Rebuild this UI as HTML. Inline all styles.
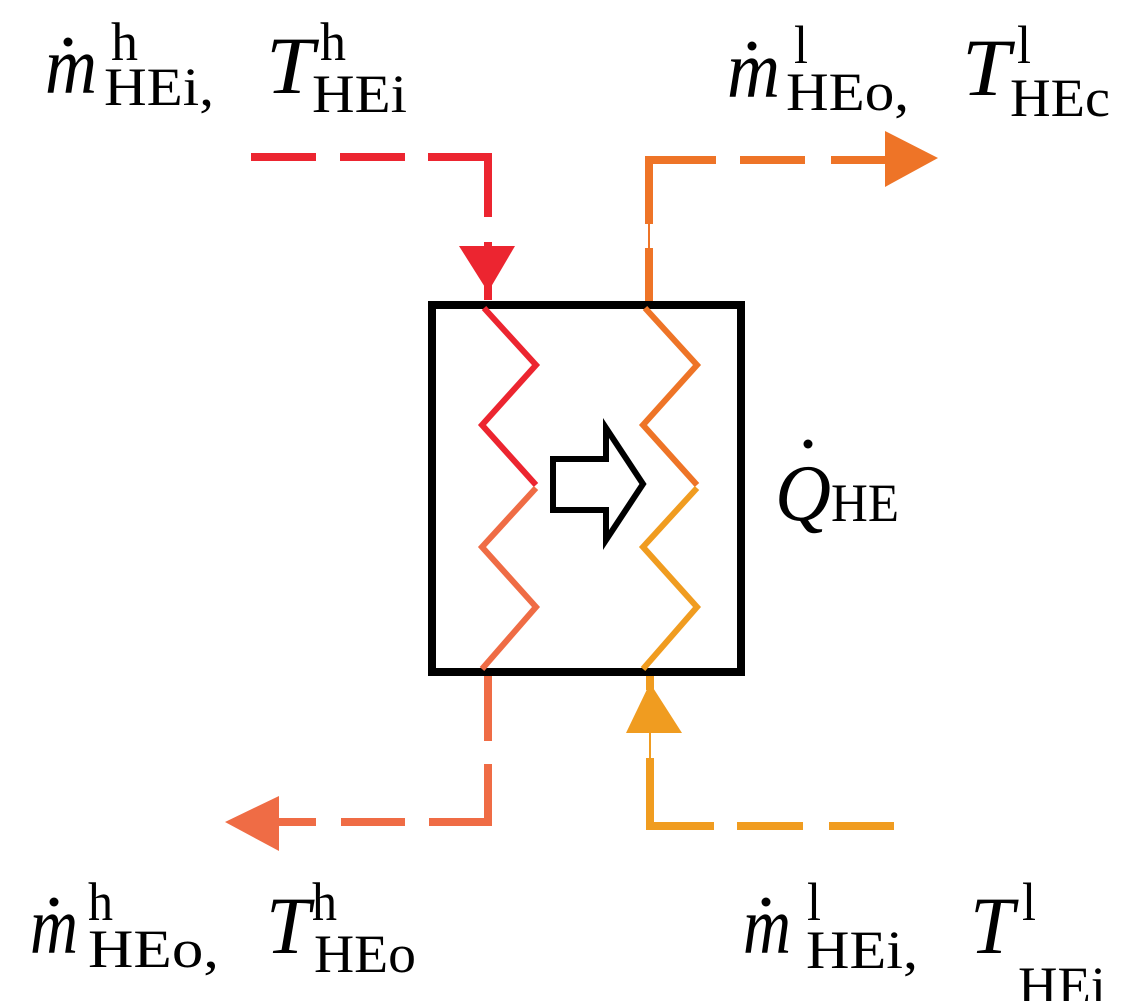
<!DOCTYPE html>
<html><head><style>html,body{margin:0;padding:0;background:#fff}svg{display:block}</style></head>
<body>
<svg width="1141" height="1001" viewBox="0 0 1141 1001" xmlns="http://www.w3.org/2000/svg" font-family="Liberation Serif, serif">
<g stroke="#EC2530" stroke-width="8" fill="none">
<path d="M251 157H316M340 157H405M428 157H488V217"/>
<path d="M488 242V300"/>
</g>
<polygon points="459,246 515,246 488,292" fill="#EC2530"/>
<g stroke="#EE7427" stroke-width="8" fill="none">
<path d="M649 305V248M649 224V160H716M740 160H805M831 160H888"/>
</g>
<line x1="649" y1="224" x2="649" y2="248" stroke="#EE7427" stroke-width="2"/>
<polygon points="885,131 885,187 938,158" fill="#EE7427"/>
<g stroke="#EF6C45" stroke-width="8" fill="none">
<path d="M488 675V741M488 764V822H429M405 822H341M316 822H279"/>
</g>
<polygon points="279,796 279,851 225,822" fill="#EF6C45"/>
<g stroke="#F09C20" stroke-width="8" fill="none">
<path d="M650 672V690M650 758V826H714M737 826H803M829 826H894"/>
</g>
<line x1="650" y1="733" x2="650" y2="758" stroke="#F09C20" stroke-width="2"/>
<polygon points="626,733 682,733 650,683" fill="#F09C20"/>
<rect x="432" y="305" width="309" height="367" fill="none" stroke="#000" stroke-width="8"/>
<g stroke-width="6" fill="none" stroke-linejoin="miter">
<path d="M484 308L536 365L482 425L536 485" stroke="#EC2530"/>
<path d="M536 488L482 547L536 607L482 669" stroke="#EF6C45"/>
<path d="M645 308L697 365L643 425L697 485" stroke="#EE7427"/>
<path d="M697 488L643 547L697 607L643 669" stroke="#F09C20"/>
</g>
<polygon points="553,459 606,459 606,428 643,484 606,540 606,510 553,510" fill="none" stroke="#000" stroke-width="6"/>
<g fill="#000">
<text x="45" y="93" font-size="82" font-style="italic" textLength="52" lengthAdjust="spacingAndGlyphs">m</text>
<circle cx="68" cy="42" r="4.5"/>
<text x="111" y="60" font-size="54" textLength="27" lengthAdjust="spacingAndGlyphs">h</text>
<text x="104" y="105" font-size="54" textLength="110" lengthAdjust="spacingAndGlyphs">HEi,</text>
<text x="266" y="93" font-size="82" font-style="italic" textLength="48" lengthAdjust="spacingAndGlyphs">T</text>
<text x="320" y="60" font-size="54" textLength="26" lengthAdjust="spacingAndGlyphs">h</text>
<text x="312" y="112" font-size="54" textLength="95" lengthAdjust="spacingAndGlyphs">HEi</text>

<text x="727" y="97" font-size="82" font-style="italic" textLength="53" lengthAdjust="spacingAndGlyphs">m</text>
<circle cx="752" cy="46" r="4.5"/>
<text x="794" y="63" font-size="54" textLength="14" lengthAdjust="spacingAndGlyphs">l</text>
<text x="786" y="110" font-size="54" textLength="123" lengthAdjust="spacingAndGlyphs">HEo,</text>
<text x="962" y="95" font-size="82" font-style="italic" textLength="48" lengthAdjust="spacingAndGlyphs">T</text>
<text x="1017" y="63" font-size="54" textLength="14" lengthAdjust="spacingAndGlyphs">l</text>
<text x="1010" y="116" font-size="54" textLength="100" lengthAdjust="spacingAndGlyphs">HEc</text>

<text x="775" y="520" font-size="80" font-style="italic" textLength="56" lengthAdjust="spacingAndGlyphs">Q</text>
<circle cx="808" cy="444" r="4.5"/>
<text x="831" y="521" font-size="54" textLength="68" lengthAdjust="spacingAndGlyphs">HE</text>

<text x="30" y="953" font-size="82" font-style="italic" textLength="48" lengthAdjust="spacingAndGlyphs">m</text>
<circle cx="54" cy="902" r="4.5"/>
<text x="88" y="920" font-size="54" textLength="25" lengthAdjust="spacingAndGlyphs">h</text>
<text x="88" y="967" font-size="54" textLength="131" lengthAdjust="spacingAndGlyphs">HEo,</text>
<text x="266" y="953" font-size="82" font-style="italic" textLength="44" lengthAdjust="spacingAndGlyphs">T</text>
<text x="312" y="920" font-size="54" textLength="25" lengthAdjust="spacingAndGlyphs">h</text>
<text x="314" y="972" font-size="54" textLength="102" lengthAdjust="spacingAndGlyphs">HEo</text>

<text x="743" y="953" font-size="82" font-style="italic" textLength="48" lengthAdjust="spacingAndGlyphs">m</text>
<circle cx="766" cy="902" r="4.5"/>
<text x="807" y="920" font-size="54" textLength="14" lengthAdjust="spacingAndGlyphs">l</text>
<text x="806" y="968" font-size="54" textLength="112" lengthAdjust="spacingAndGlyphs">HEi,</text>
<text x="970" y="953" font-size="82" font-style="italic" textLength="44" lengthAdjust="spacingAndGlyphs">T</text>
<text x="1022" y="920" font-size="54" textLength="14" lengthAdjust="spacingAndGlyphs">l</text>
<text x="1018" y="1004" font-size="54" textLength="88" lengthAdjust="spacingAndGlyphs">HEi</text>
</g>
</svg>
</body></html>
